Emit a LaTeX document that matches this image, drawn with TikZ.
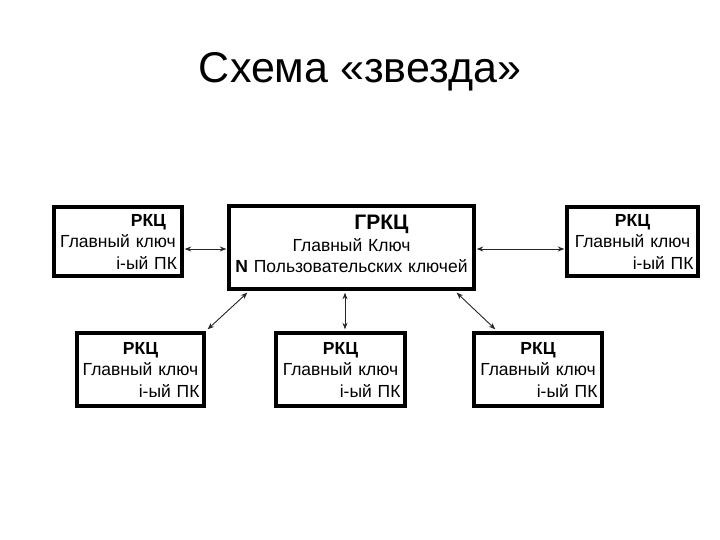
\documentclass[tikz,border=0pt]{standalone}
\usepackage{fontspec}
\setmainfont{Liberation Sans}
\usetikzlibrary{arrows.meta,calc}
\tikzset{
  box/.style={draw=black, line width=3.4pt, inner sep=0pt, align=center, font=\fontsize{17.5}{21.5}\selectfont},
  arr/.style={{Stealth[length=6.5pt,width=5pt]}-{Stealth[length=6.5pt,width=5pt]}, line width=0.9pt, black!85}
}
\newcommand{\rline}[1]{\hspace*{\fill}#1}
\begin{document}
\begin{tikzpicture}[x=1pt,y=-1pt]
\useasboundingbox (0,0) rectangle (720,540);
\node[font=\fontsize{43}{50}\selectfont, anchor=base] (title) at (360,83) {Схема «звезда»};

\node[box, minimum width=128pt, minimum height=69pt, text width=118pt] (tl) at (118,241.5)
  {\rline{\textbf{РКЦ}\kern11pt\null}\\ Главный ключ\\ \rline{i-ый ПК}};
\node[box, minimum width=245pt, minimum height=83pt, text width=240pt] (c) at (351.5,247.5)
  {\hspace*{60pt}{\fontsize{21}{23}\selectfont\textbf{ГРКЦ}}\\ Главный Ключ\\ \textbf{N} Пользовательских ключей\\[-15pt]\null};
\node[box, minimum width=131pt, minimum height=69pt, text width=122pt] (tr) at (632.5,241.5)
  {\textbf{РКЦ}\\ Главный ключ\\ \rline{i-ый ПК}};
\node[box, minimum width=127pt, minimum height=73pt, text width=118pt] (bl) at (140.5,369.5)
  {\textbf{РКЦ}\\ Главный ключ\\ \rline{i-ый ПК}};
\node[box, minimum width=129pt, minimum height=73pt, text width=120pt] (bm) at (340.5,369.5)
  {\textbf{РКЦ}\\ Главный ключ\\ \rline{i-ый ПК}};
\node[box, minimum width=128pt, minimum height=73pt, text width=119pt] (br) at (538,369.5)
  {\textbf{РКЦ}\\ Главный ключ\\ \rline{i-ый ПК}};

\coordinate (cm) at ($(c.south)+(-6.5,2)$);
\coordinate (bmt) at ($(bm.north)+(4.5,-2)$);
\draw[arr] ($(tl.east)+(1,7.5)$) -- ($(c.west)+(-1,1.5)$);
\draw[arr] ($(c.east)+(1,1.5)$) -- ($(tr.west)+(-1,7.5)$);
\draw[arr] ($(c.south west)+(20,2)$) -- ($(bl.north east)+(2,-2)$);
\draw[arr] (cm) -- (bmt);
\draw[arr] ($(c.south east)+(-19,2)$) -- ($(br.north west)+(23,-2)$);
\end{tikzpicture}
\end{document}
